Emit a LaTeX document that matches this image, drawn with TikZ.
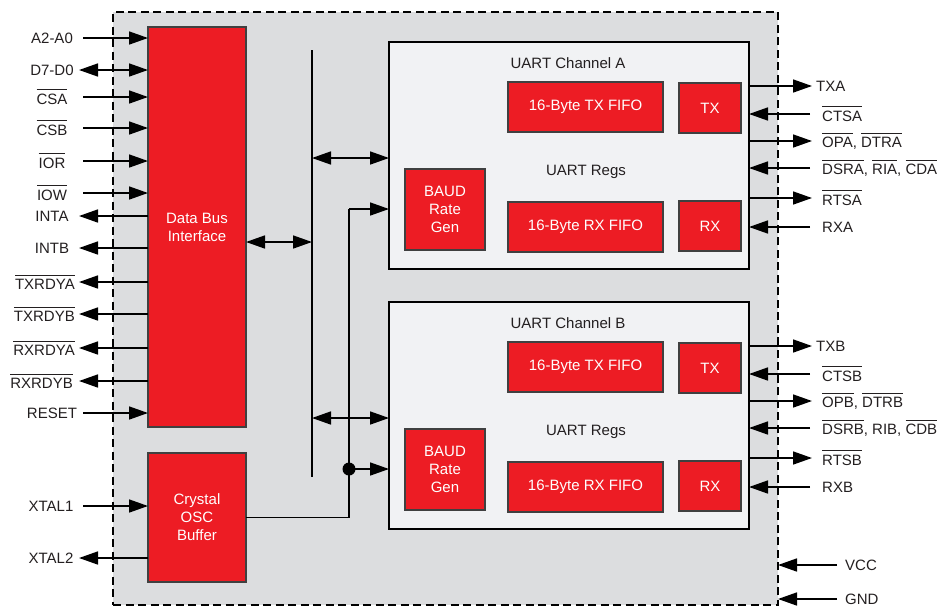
\documentclass[tikz,border=0pt]{standalone}
\usepackage{fontspec}
\setmainfont{Liberation Sans}
\usetikzlibrary{arrows.meta}

\definecolor{uartred}{HTML}{ED1C24}
\definecolor{chipgray}{HTML}{DCDDDF}
\definecolor{chanwhite}{HTML}{F1F2F4}
\definecolor{ink}{HTML}{231F20}

\newcommand{\ovl}[1]{\setbox0\hbox{#1}\rlap{\rule[\dimexpr\ht0+3.5pt\relax]{\wd0}{1pt}}\box0}

\tikzset{
  every node/.style={font=\fontsize{15}{18}\selectfont},
  chipbox/.style={draw, dash pattern=on 8pt off 4.5pt, line width=1.5pt, fill=chipgray, inner sep=0pt, outer sep=0pt},
  chanbox/.style={draw, line width=2.4pt, fill=chanwhite, inner sep=0pt, outer sep=0pt, anchor=north west},
  redbox/.style={draw=black!75, line width=1.2pt, fill=uartred, text=white, align=center, inner sep=0pt, outer sep=0pt, anchor=north west},
  lbl/.style={text=ink, inner sep=0pt},
  wire/.style={line width=1.6pt},
  sig/.style={wire, -{Triangle[length=19pt,width=13pt]}},
  sigboth/.style={wire, {Triangle[length=19pt,width=13pt]}-{Triangle[length=19pt,width=13pt]}},
}

\begin{document}
\begin{tikzpicture}[x=1pt,y=-1pt]
\useasboundingbox (0,0) rectangle (938,606);

\node[chipbox, minimum width=665, minimum height=593, anchor=north west] (chip) at (113,12) {};

\node[redbox, minimum width=98, minimum height=400] (dbi) at (148,27) {Data Bus\\Interface};
\node[redbox, minimum width=98, minimum height=129] (osc) at (148,453) {Crystal\\OSC\\Buffer};

\foreach \c/\o/\ri in {A/0/\ovl{RIA},B/260/RIB}{
  \node[chanbox, minimum width=360, minimum height=227] (ch\c) at (389,42+\o) {};
  \node[lbl] (title\c) at (568,63+\o) {UART Channel \c};
  \node[lbl] (regs\c) at (586,172+\o) {UART Regs};
  \node[redbox, minimum width=155, minimum height=50] (txf\c) at (508,82+\o) {16-Byte TX FIFO};
  \node[redbox, minimum width=62, minimum height=50] (tx\c) at (679,83+\o) {TX};
  \node[redbox, minimum width=80, minimum height=81] (baud\c) at (405,169+\o) {BAUD\\Rate\\Gen};
  \node[redbox, minimum width=155, minimum height=50] (rxf\c) at (508,202+\o) {16-Byte RX FIFO};
  \node[redbox, minimum width=62, minimum height=50] (rx\c) at (679,201+\o) {RX};
  \coordinate (bus\c) at (312,158+\o);
  \draw[sigboth] (bus\c) -- (bus\c -| ch\c.west);
  \coordinate (clk\c) at (349,209+\o);
  \draw[sig] (clk\c) -- (clk\c -| ch\c.west);
  \foreach \y/\x/\t/\n in {86/816/TX\c/tx, 141/822/{\ovl{OP\c}, \ovl{DTR\c}}/dtr, 198/822/\ovl{RTS\c}/rts}{
    \node[lbl, anchor=west] (l\n\c) at (\x,\y+\o) {\t};
    \coordinate (e\n\c) at (812,\y+\o);
    \draw[sig] (e\n\c -| ch\c.east) -- (e\n\c);
  }
  \foreach \y/\t/\n in {114/\ovl{CTS\c}/cts, 168/{\ovl{DSR\c}, \ri, \ovl{CD\c}}/dsr, 227/RX\c/rx}{
    \node[lbl, anchor=west] (l\n\c) at (822,\y+\o) {\t};
    \coordinate (e\n\c) at (810,\y+\o);
    \draw[sig] (e\n\c) -- (e\n\c -| ch\c.east);
  }
}

\foreach \y/\t/\n in {38/A2-A0/a, 97/\ovl{CSA}/csa, 128/\ovl{CSB}/csb, 161/\ovl{IOR}/ior, 193/\ovl{IOW}/iow, 413/RESET/rst}{
  \node[lbl] (l\n) at (52,\y) {\t};
  \coordinate (p\n) at (83,\y);
  \draw[sig] (p\n) -- (p\n -| dbi.west);
}
\foreach \y/\t/\n/\x/\a in {216/INTA/inta/52/center, 248/INTB/intb/52/center, 282/\ovl{TXRDYA}/tra/75/east, 314/\ovl{TXRDYB}/trb/75/east, 348/\ovl{RXRDYA}/rra/75/east, 381/\ovl{RXRDYB}/rrb/73/east}{
  \node[lbl, anchor=\a] (l\n) at (\x,\y) {\t};
  \coordinate (p\n) at (79,\y);
  \draw[sig] (p\n -| dbi.west) -- (p\n);
}
\node[lbl] (ld) at (52,70) {D7-D0};
\coordinate (pd) at (79,70);
\draw[sigboth] (pd) -- (pd -| dbi.west);

\node[lbl] (lx1) at (51,506) {XTAL1};
\coordinate (px1) at (83,506);
\draw[sig] (px1) -- (px1 -| osc.west);
\node[lbl] (lx2) at (51,558) {XTAL2};
\coordinate (px2) at (79,558);
\draw[sig] (px2 -| osc.west) -- (px2);

\coordinate (bt) at (312,50);
\coordinate (bb) at (312,477);
\draw[wire] (bt) -- (bb);
\coordinate (bm) at (312,242);
\draw[sigboth] (bm -| dbi.east) -- (bm);

\draw[wire] (osc.east) -| (clkB) -- (clkA);
\fill (clkB) circle (6.5);

\foreach \y/\t/\n in {565/VCC/vcc, 599/GND/gnd}{
  \node[lbl, anchor=west] (l\n) at (845,\y) {\t};
  \coordinate (p\n) at (837,\y);
  \draw[sig] (p\n) -- (p\n -| chip.east);
}

\end{tikzpicture}
\end{document}
